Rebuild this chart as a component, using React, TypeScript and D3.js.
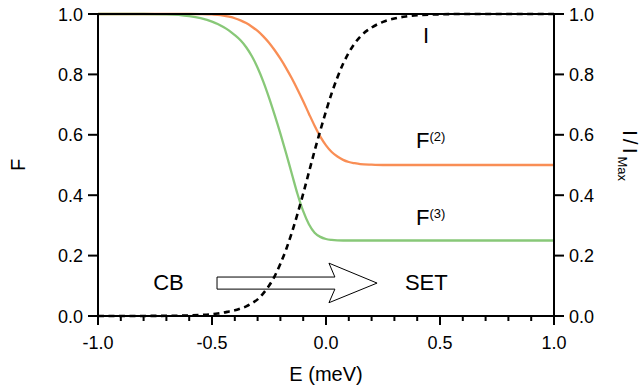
import React from "react";
import * as d3 from "d3";

// Energy grid (meV)
const E = [-1.0, -0.8, -0.7, -0.6, -0.55, -0.5, -0.475, -0.45, -0.425, -0.4, -0.375, -0.35, -0.325, -0.3, -0.275, -0.25, -0.225, -0.2, -0.175, -0.15, -0.125, -0.1, -0.075, -0.05, -0.025, 0, 0.025, 0.05, 0.075, 0.1, 0.125, 0.15, 0.2, 0.25, 0.3, 0.35, 0.4, 0.5, 0.6, 0.8, 1.0];
// F^(2) (orange)
const F2 = [1.0, 1.0, 1.0, 1.0, 0.9995, 0.9985, 0.9975, 0.995, 0.991, 0.986, 0.979, 0.97, 0.958, 0.944, 0.926, 0.905, 0.88, 0.852, 0.821, 0.787, 0.75, 0.711, 0.67, 0.63, 0.594, 0.565, 0.543, 0.528, 0.517, 0.51, 0.506, 0.503, 0.501, 0.5, 0.5, 0.5, 0.5, 0.5, 0.5, 0.5, 0.5];
// F^(3) (green)
const F3 = [1.0, 1.0, 0.999, 0.993, 0.986, 0.975, 0.967, 0.957, 0.945, 0.93, 0.913, 0.89, 0.86, 0.822, 0.776, 0.723, 0.665, 0.604, 0.539, 0.471, 0.404, 0.347, 0.304, 0.276, 0.262, 0.255, 0.252, 0.2505, 0.25, 0.25, 0.25, 0.25, 0.25, 0.25, 0.25, 0.25, 0.25, 0.25, 0.25, 0.25, 0.25];
// I / I_Max (dashed)
const IR = [0, 0.0002, 0.0006, 0.002, 0.0035, 0.006, 0.008, 0.011, 0.015, 0.019, 0.025, 0.032, 0.042, 0.055, 0.075, 0.1, 0.132, 0.173, 0.22, 0.276, 0.338, 0.405, 0.476, 0.547, 0.614, 0.678, 0.738, 0.79, 0.835, 0.872, 0.902, 0.925, 0.955, 0.974, 0.985, 0.992, 0.996, 0.999, 1.0, 1.0, 1.0];

const xMajor = [-1.0, -0.5, 0.0, 0.5, 1.0];
const xMinor = [-0.9, -0.8, -0.7, -0.6, -0.4, -0.3, -0.2, -0.1, 0.1, 0.2, 0.3, 0.4, 0.6, 0.7, 0.8, 0.9];
const yTicks = [0.0, 0.2, 0.4, 0.6, 0.8, 1.0];

// annotation arrow (data units)
const arrowBody = { x0: -0.478, x1: 0.039, yTop: 0.129, yBot: 0.089 };
const arrowHead = { xBack: 0.013, xTip: 0.224, yTop: 0.175, yBot: 0.044, yTip: 0.109 };

const W = 641, H = 390;
const M = { left: 98, right: 87, top: 14, bottom: 74 };
const FONT = "'Liberation Sans', Arial, Helvetica, sans-serif";

export default function App() {
  const x = d3.scaleLinear().domain([-1, 1]).range([M.left, W - M.right]);
  const y = d3.scaleLinear().domain([0, 1]).range([H - M.bottom, M.top]);
  const line = (vals: number[]) =>
    d3.line<number>().x((_, i) => x(E[i])).y((d) => y(d)).curve(d3.curveMonotoneX)(vals) || "";

  const x0 = x(-1), x1 = x(1), y0 = y(0), y1 = y(1);

  const arrowPath =
    `M${x(arrowBody.x0)},${y(arrowBody.yTop)} L${x(arrowBody.x1)},${y(arrowBody.yTop)} ` +
    `L${x(arrowHead.xBack)},${y(arrowHead.yTop)} L${x(arrowHead.xTip)},${y(arrowHead.yTip)} ` +
    `L${x(arrowHead.xBack)},${y(arrowHead.yBot)} L${x(arrowBody.x1)},${y(arrowBody.yBot)} ` +
    `L${x(arrowBody.x0)},${y(arrowBody.yBot)} Z`;

  return (
    <svg width={W} height={H} style={{ position: "absolute", left: 0, top: 0, background: "#fff" }} fontFamily={FONT}>
      <rect width={W} height={H} fill="#fff" />
      {/* arrow */}
      <path d={arrowPath} fill="#fff" stroke="#000" strokeWidth={1} />
      {/* curves */}
      <path d={line(F2)} fill="none" stroke="#f98e55" strokeWidth={2.3} />
      <path d={line(F3)} fill="none" stroke="#88c878" strokeWidth={2.3} />
      <path d={line(IR)} fill="none" stroke="#000" strokeWidth={2.6} strokeDasharray="6,4.5" />

      {/* frame */}
      <line x1={x0} x2={x1} y1={y1} y2={y1} stroke="#000" strokeWidth={2} />
      <line x1={x0} x2={x1} y1={y0} y2={y0} stroke="#000" strokeWidth={2} />
      <line x1={x0} x2={x0} y1={y1 - 1} y2={y0 + 1} stroke="#000" strokeWidth={2} />
      <line x1={x1} x2={x1} y1={y1 - 1} y2={y0 + 1} stroke="#000" strokeWidth={2} />

      {/* x ticks */}
      {xMajor.map((t) => (
        <g key={"xm" + t}>
          <line x1={x(t)} x2={x(t)} y1={y0} y2={y0 + 9} stroke="#000" strokeWidth={2} />
          <text x={x(t)} y={y0 + 33} textAnchor="middle" fontSize={18}>{t.toFixed(1)}</text>
        </g>
      ))}
      {xMinor.map((t) => (
        <line key={"xn" + t} x1={x(t)} x2={x(t)} y1={y0} y2={y0 + 5} stroke="#000" strokeWidth={2} />
      ))}
      {/* y ticks left & right */}
      {yTicks.map((t) => (
        <g key={"y" + t}>
          <line x1={x0 - 10} x2={x0} y1={y(t)} y2={y(t)} stroke="#000" strokeWidth={2} />
          <text x={x0 - 15} y={y(t) + 6.5} textAnchor="end" fontSize={18}>{t.toFixed(1)}</text>
          <line x1={x1} x2={x1 + 10} y1={y(t)} y2={y(t)} stroke="#000" strokeWidth={2} />
          <text x={x1 + 15} y={y(t) + 6.5} textAnchor="start" fontSize={18}>{t.toFixed(1)}</text>
        </g>
      ))}

      {/* axis titles */}
      <text x={(x0 + x1) / 2} y={381} textAnchor="middle" fontSize={20}>E (meV)</text>
      <text transform={`translate(25,165) rotate(-90)`} textAnchor="middle" fontSize={20}>F</text>
      <text transform={`translate(623,130) rotate(90)`} textAnchor="start" fontSize={21}>
        <tspan letterSpacing={3}>I/I</tspan>
        <tspan fontSize={13} dy={5}>Max</tspan>
      </text>

      {/* in-plot labels */}
      <text x={x(0.425)} y={y(0.904)} fontSize={22}>I</text>
      <text x={x(0.395)} y={y(0.556)} fontSize={22}>
        F<tspan fontSize={13} dy={-7.5}>(2)</tspan>
      </text>
      <text x={x(0.395)} y={y(0.3)} fontSize={22}>
        F<tspan fontSize={13} dy={-7.5}>(3)</tspan>
      </text>
      <text x={x(0.346)} y={y(0.086)} fontSize={22}>SET</text>
      <text x={x(-0.758)} y={y(0.086)} fontSize={22}>CB</text>
    </svg>
  );
}
